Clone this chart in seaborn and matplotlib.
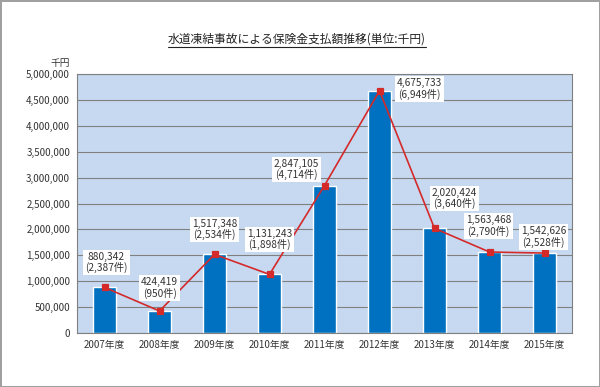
# 水道凍結事故による保険金支払額推移（棒グラフ＋折れ線）

import pandas as pd
import matplotlib
matplotlib.use('Agg')
import matplotlib.pyplot as plt
from matplotlib.lines import Line2D
from matplotlib.ticker import FuncFormatter, FixedLocator
import seaborn as sns

# データ
years = ['2007年度', '2008年度', '2009年度', '2010年度', '2011年度',
         '2012年度', '2013年度', '2014年度', '2015年度']
amounts = [880342, 424419, 1517348, 1131243, 2847105,
           4675733, 2020424, 1563468, 1542626]
cases = [2387, 950, 2534, 1898, 4714, 6949, 3640, 2790, 2528]

df = pd.DataFrame({'年度': years, '支払額': amounts, '件数': cases})

# ラベル位置（点からのずれ, ピクセル）
label_offsets = [(2, 25), (0, 23), (0, 25), (0, 35), (-28, 16),
                 (40, 2), (20, 30), (-1, 26), (-1, 16)]

sns.set_style('white')
plt.rcParams['font.family'] = ['Noto Sans CJK JP', 'DejaVu Sans']

fig = plt.figure(figsize=(6, 3.87), dpi=100)
fig.patch.set_edgecolor('#a0a0a0')
fig.patch.set_linewidth(2)
ax = fig.add_axes([77 / 600, 1 - 333 / 387, 495 / 600, 259 / 387])
ax.set_facecolor('#c6d9f1')

# 棒グラフ
sns.barplot(data=df, x='年度', y='支払額', color='#0070c0', saturation=1,
            width=0.42, ax=ax, zorder=2)

# 折れ線
sns.pointplot(data=df, x='年度', y='支払額', color='#d42a2a', markers='s',
              markersize=4, linewidth=1.2, ax=ax, zorder=3)

# ラベル
for i, (v, c) in enumerate(zip(amounts, cases)):
    dx, dy = label_offsets[i]
    ax.annotate(f'{v:,}\n({c:,}件)', xy=(i, v), xytext=(dx, dy),
                textcoords='offset pixels', ha='center', va='center',
                fontsize=7.3, color='#333333', linespacing=1.05, zorder=5,
                bbox=dict(boxstyle='square,pad=0.2', fc='white', ec='none'))

# 軸
ax.set_ylim(0, 5000000)
ax.set_xlim(-0.5, 8.5)
ax.yaxis.set_major_locator(FixedLocator(range(0, 5000001, 500000)))
ax.yaxis.set_major_formatter(FuncFormatter(lambda v, p: f'{int(v):,}'))
ax.grid(axis='y', color='#808080', linewidth=0.8, zorder=0)
ax.set_axisbelow(True)
ax.set_xlabel('')
ax.set_ylabel('')
ax.tick_params(axis='both', labelsize=7, colors='#333333')
ax.tick_params(axis='y', length=3, color='#808080', pad=2)
ax.tick_params(axis='x', which='major', length=0, pad=5)
ax.set_xticks([i - 0.5 for i in range(10)], minor=True)
ax.tick_params(axis='x', which='minor', length=3, color='#808080')
for s in ax.spines.values():
    s.set_color('#808080')
    s.set_linewidth(0.8)

fig.text(70 / 600, 1 - 63 / 387, '千円', ha='right', va='center',
         fontsize=7, color='#333333')

# タイトル（下線付き）
title = fig.text(0.495, 1 - 39 / 387, '水道凍結事故による保険金支払額推移(単位:千円)',
                 ha='center', va='center', fontsize=8.5, color='#222222')
fig.canvas.draw()
bb = title.get_window_extent()
fig.add_artist(Line2D([bb.x0 / 600, bb.x1 / 600],
                      [(bb.y0 - 1) / 387, (bb.y0 - 1) / 387],
                      color='#222222', linewidth=0.8))

fig.savefig('out.png', dpi=100)
